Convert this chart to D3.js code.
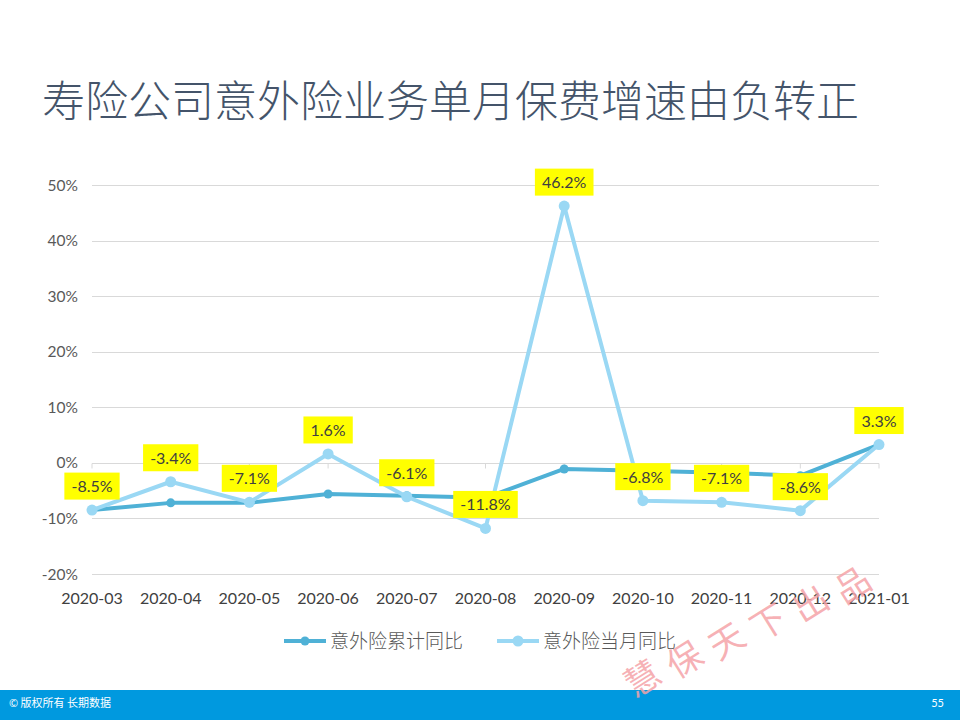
<!DOCTYPE html>
<html><head><meta charset="utf-8">
<script src="https://cdn.jsdelivr.net/npm/d3@7/dist/d3.min.js"></script>
<style>body{margin:0;background:#fff;}svg{display:block;}</style>
</head><body>
<script>
const title = "寿险公司意外险业务单月保费增速由负转正";
const categories = ["2020-03","2020-04","2020-05","2020-06","2020-07","2020-08","2020-09","2020-10","2020-11","2020-12","2021-01"];
const cumulative = [-8.5,-7.2,-7.2,-5.6,-5.9,-6.3,-1.1,-1.4,-1.8,-2.3,3.3];
const monthly = [-8.5,-3.4,-7.1,1.6,-6.1,-11.8,46.2,-6.8,-7.1,-8.6,3.3];
const yTicks = [-20,-10,0,10,20,30,40,50];
const seriesNames = ["意外险累计同比","意外险当月同比"];
const watermark = ["慧","保","天","下","出","品"];

const W=960,H=720;
const svg=d3.select("body").append("svg").attr("width",W).attr("height",H);
const font="Lato, 'Noto Sans CJK SC', sans-serif";
const cjk="'Noto Sans CJK SC', sans-serif";

svg.append("text").attr("x",42).attr("y",117).attr("font-family",cjk).attr("font-size",43).attr("font-weight",300)
  .attr("fill","#44546A").text(title);

const x=d3.scalePoint().domain(categories).range([92,879]);
const y=d3.scaleLinear().domain([-20,50]).range([574,185]);

// gridlines
svg.append("g").selectAll("line").data(yTicks).join("line")
  .attr("x1",92).attr("x2",879).attr("y1",d=>Math.round(y(d))+0.5).attr("y2",d=>Math.round(y(d))+0.5)
  .attr("stroke","#d9d9d9").attr("stroke-width",1);
// y labels
svg.append("g").selectAll("text").data(yTicks).join("text")
  .attr("x",78).attr("y",d=>y(d)+5.5).attr("text-anchor","end")
  .attr("font-family",font).attr("font-size",15.5).attr("fill","#595959").text(d=>d+"%");
// x axis ticks at zero line
const y0=Math.round(y(0))+0.5;
svg.append("g").selectAll("line").data(categories).join("line")
  .attr("x1",d=>x(d)).attr("x2",d=>x(d)).attr("y1",y0).attr("y2",y0+5)
  .attr("stroke","#d9d9d9");
svg.append("g").selectAll("text").data(categories).join("text")
  .attr("x",d=>x(d)).attr("y",604).attr("text-anchor","middle")
  .attr("font-family",font).attr("font-size",16).attr("fill","#404040").text(d=>d);

const cDark="#4FB1D6", cLight="#9AD8F4";
const line=d3.line().x((d,i)=>x(categories[i])).y(d=>y(d));
svg.append("path").datum(cumulative).attr("d",line).attr("fill","none").attr("stroke",cDark).attr("stroke-width",4).attr("stroke-linejoin","round");
svg.append("g").selectAll("circle").data(cumulative).join("circle")
  .attr("cx",(d,i)=>x(categories[i])).attr("cy",d=>y(d)).attr("r",4.5).attr("fill",cDark);
svg.append("path").datum(monthly).attr("d",line).attr("fill","none").attr("stroke",cLight).attr("stroke-width",4).attr("stroke-linejoin","round");
svg.append("g").selectAll("circle").data(monthly).join("circle")
  .attr("cx",(d,i)=>x(categories[i])).attr("cy",d=>y(d)).attr("r",5.5).attr("fill",cLight);

// data labels
const lg=svg.append("g");
monthly.forEach((v,i)=>{
  const cx=x(categories[i]), cy=y(v)-24;
  const t=lg.append("text").attr("x",cx).attr("y",cy+6).attr("text-anchor","middle")
    .attr("font-family",font).attr("font-size",16).attr("fill","#404040").text(v.toFixed(1)+"%");
  const bb=t.node().getBBox();
  lg.insert("rect","text").attr("x",cx-bb.width/2-7).attr("y",cy-13.5).attr("width",bb.width+14).attr("height",27).attr("fill","#FFFF00");
});

// legend
const leg=svg.append("g");
[[284,cDark,4.5],[497,cLight,5.5]].forEach(([lx,c,r],i)=>{
  leg.append("line").attr("x1",lx).attr("x2",lx+42).attr("y1",641).attr("y2",641).attr("stroke",c).attr("stroke-width",4);
  leg.append("circle").attr("cx",lx+21).attr("cy",641).attr("r",r).attr("fill",c);
  leg.append("text").attr("x",lx+46).attr("y",648).attr("font-family",cjk).attr("font-size",19).attr("font-weight",300).attr("fill","#595959").text(seriesNames[i]);
});

// footer
svg.append("rect").attr("x",0).attr("y",690).attr("width",W).attr("height",30).attr("fill","#0099DF");
svg.append("text").attr("x",9).attr("y",707).attr("font-family",cjk).attr("font-size",11).attr("fill","#fff").text("© 版权所有 长期数据");
svg.append("text").attr("x",944).attr("y",707).attr("text-anchor","end").attr("font-family",font).attr("font-size",11).attr("fill","#fff").text("55");

// watermark
const wm=svg.append("g").attr("transform","translate(641,676) rotate(-24)");
watermark.forEach((ch,i)=>{
  wm.append("text").attr("x",i*46).attr("y",0).attr("text-anchor","middle").attr("dominant-baseline","central")
    .attr("transform",`rotate(-8,${i*46},0)`)
    .attr("font-family",cjk).attr("font-size",35).attr("fill","#F5A3A8").attr("fill-opacity",0.85).text(ch);
});
</script>
</body></html>
